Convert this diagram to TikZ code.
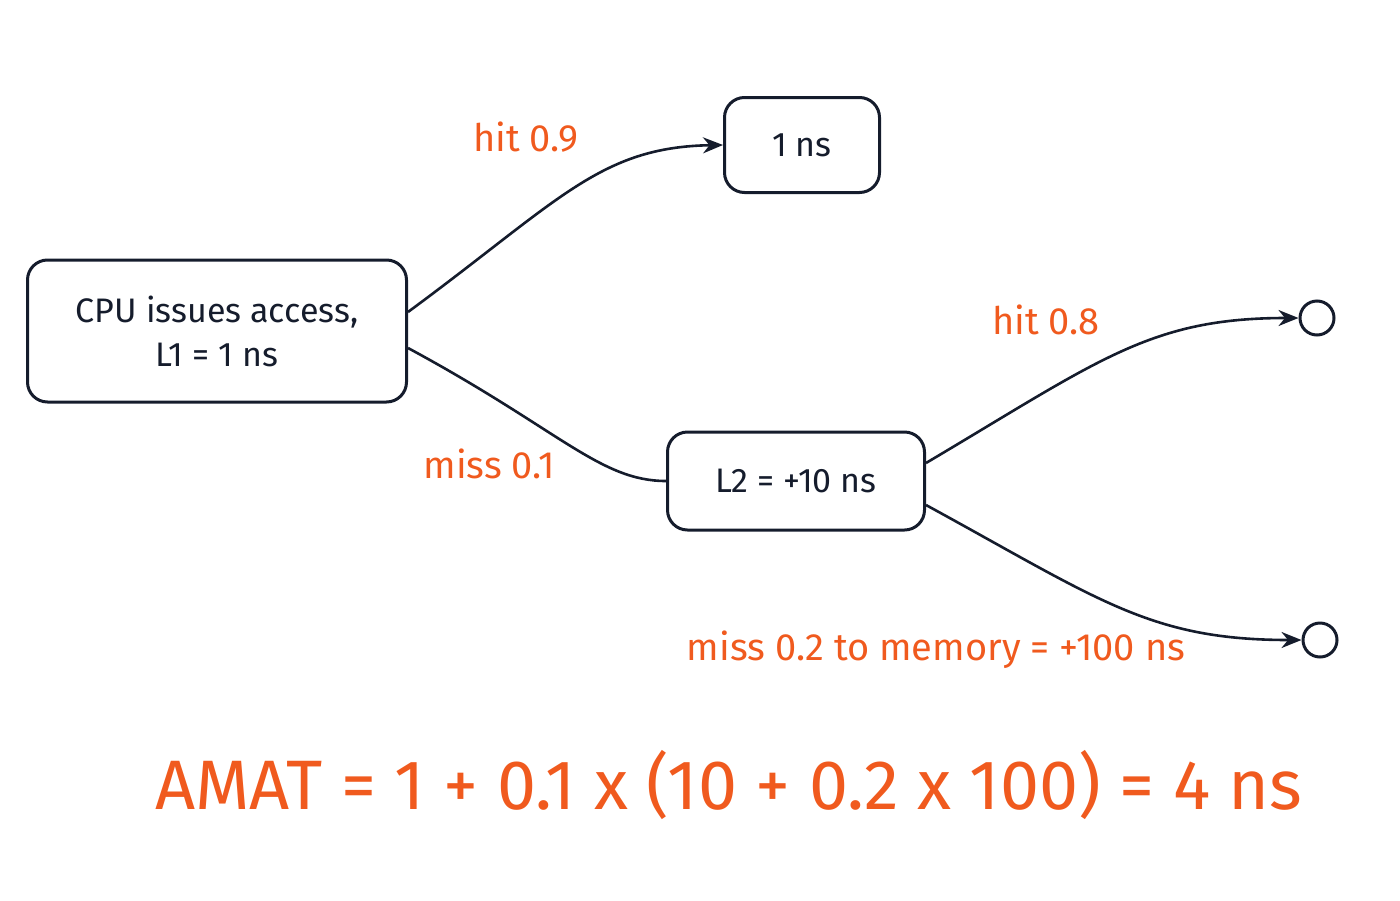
\documentclass[tikz,border=0pt]{standalone}
\usepackage{fontspec}
\setmainfont{Fira Sans}
\usetikzlibrary{arrows.meta}
\definecolor{ink}{HTML}{151C2C}
\definecolor{org}{HTML}{F05A1E}
\begin{document}
\begin{tikzpicture}[x=1pt,y=-1pt,
 box/.style={draw=ink,line width=3pt,rounded corners=20pt,align=center,font=\fontsize{34}{44}\selectfont,text=ink,inner sep=0pt},
 lab/.style={text=org,font=\fontsize{38}{44}\selectfont},
 con/.style={draw=ink,line width=2.6pt,-{Stealth[length=20pt,width=16pt]}},
 ln/.style={draw=ink,line width=2.6pt},
 end/.style={draw=ink,line width=3pt,circle,minimum size=34pt,inner sep=0pt}]
\useasboundingbox (0,0) rectangle (1400,900);
\node[box,minimum width=379pt,minimum height=142pt] (cpu) at (217,331) {CPU issues access,\\L1 = 1 ns};
\node[box,minimum width=155pt,minimum height=95pt] (one) at (802,145) {1 ns};
\node[box,minimum width=257pt,minimum height=98pt] (l2) at (796,481) {L2 = +10 ns};
\node[end] (c1) at (1317,318) {};
\node[end] (c2) at (1320,640) {};
\draw[con] ([yshift=19pt]cpu.east) .. controls (560,200) and (600,147) .. (one.west);
\draw[ln] ([yshift=-17pt]cpu.east) .. controls (560,430) and (600,481) .. (l2.west);
\draw[con] ([yshift=18pt]l2.east) .. controls (1100,360) and (1150,318) .. (c1.west);
\draw[con] ([yshift=-24pt]l2.east) .. controls (1100,600) and (1150,640) .. (c2.west);
\node[lab] (h1) at (526,137) {hit 0.9};
\node[lab] (m1) at (489,464) {miss 0.1};
\node[lab] (h2) at (1046,320) {hit 0.8};
\node[lab] (m2) at (936,650) {miss 0.2 to memory = +100 ns};
\node[text=org,font=\fontsize{70}{80}\selectfont] (amat) at (729,785) {AMAT = 1 + 0.1 x (10 + 0.2 x 100) = 4 ns};
\end{tikzpicture}
\end{document}
